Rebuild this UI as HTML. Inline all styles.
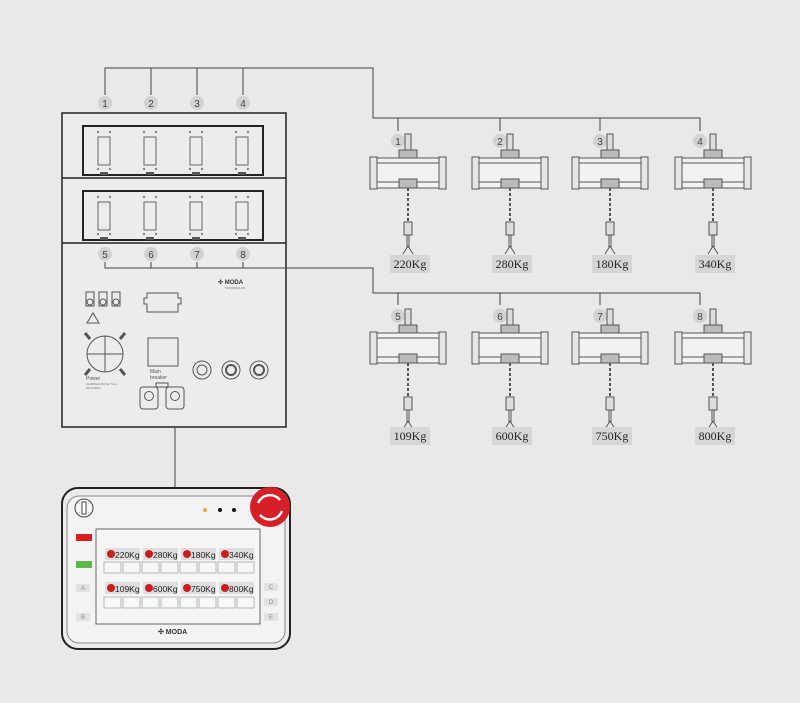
<!DOCTYPE html>
<html><head><meta charset="utf-8"><style>
html,body{margin:0;padding:0;background:#e9e9e9;}
svg{display:block;font-family:"Liberation Sans",sans-serif;}
</style></head><body>
<svg width="800" height="703" viewBox="0 0 800 703" xmlns="http://www.w3.org/2000/svg">
<defs>
<g id="hoist" stroke="#555" fill="none" stroke-width="1">
  <rect x="-3" y="-24" width="6" height="16" fill="#ddd"/>
  <rect x="-9" y="-8" width="18" height="8" fill="#bbb"/>
  <rect x="-38" y="0" width="76" height="30" fill="#f2f2f2"/>
  <line x1="-38" y1="5" x2="38" y2="5"/>
  <line x1="-38" y1="24" x2="38" y2="24"/>
  <rect x="-38" y="-1" width="7" height="32" fill="#e6e6e6"/>
  <rect x="31" y="-1" width="7" height="32" fill="#e6e6e6"/>
  <rect x="-9" y="21" width="18" height="9" fill="#bbb"/>
  <line x1="0" y1="30" x2="0" y2="64" stroke-dasharray="3,2" stroke-width="2"/>
  <rect x="-4" y="64" width="8" height="13" fill="#ddd"/>
  <line x1="-1" y1="77" x2="-1" y2="90"/><line x1="1" y1="77" x2="1" y2="90"/>
  <path d="M0 88 L-5 96 M0 88 L5 96"/>
</g>
<g id="panel" stroke="#222" fill="none">
  <rect x="0" y="0" width="180" height="49" stroke-width="2"/>
  <g id="slot">
    <rect x="15" y="11" width="12" height="28" stroke="#666"/>
    <circle cx="15" cy="6" r="1.2" fill="#888" stroke="none"/><circle cx="27" cy="6" r="1.2" fill="#888" stroke="none"/>
    <circle cx="15" cy="43" r="1.2" fill="#888" stroke="none"/><circle cx="27" cy="43" r="1.2" fill="#888" stroke="none"/>
    <rect x="17" y="46" width="8" height="3" fill="#555" stroke="none"/>
  </g>
  <use href="#slot" x="46"/><use href="#slot" x="92"/><use href="#slot" x="138"/>
</g>
</defs>

<!-- controller box -->
<rect x="62" y="113" width="224" height="314" fill="#ececec" stroke="#222" stroke-width="1.5"/>
<line x1="62" y1="178" x2="286" y2="178" stroke="#222" stroke-width="1.5"/>
<line x1="62" y1="243" x2="286" y2="243" stroke="#222" stroke-width="1.5"/>
<use href="#panel" x="83" y="126"/>
<use href="#panel" x="83" y="191"/>

<!-- wiring -->
<g stroke="#444" stroke-width="1" fill="none">
<path d="M105 95 V68 H373 V118 H700 V131"/>
<path d="M151 68 V95 M197 68 V95 M243 68 V95"/>
<path d="M398 118 V131 M500 118 V131 M600 118 V131"/>
<path d="M105 262 V268 H373 V293 H700 V305"/>
<path d="M151 262 V268 M197 262 V268 M243 262 V268"/>
<path d="M398 293 V305 M500 293 V305 M600 293 V305"/>
<line x1="175" y1="427" x2="175" y2="490"/>
</g>

<g font-size="10" text-anchor="middle" fill="#444">
<g fill="#d2d2d2"><circle cx="105" cy="103" r="7"/><circle cx="151" cy="103" r="7"/><circle cx="197" cy="103" r="7"/><circle cx="243" cy="103" r="7"/>
<circle cx="105" cy="254" r="7"/><circle cx="151" cy="254" r="7"/><circle cx="197" cy="254" r="7"/><circle cx="243" cy="254" r="7"/>
<circle cx="398" cy="141" r="7"/><circle cx="500" cy="141" r="7"/><circle cx="600" cy="141" r="7"/><circle cx="700" cy="141" r="7"/>
<circle cx="398" cy="316" r="7"/><circle cx="500" cy="316" r="7"/><circle cx="600" cy="316" r="7"/><circle cx="700" cy="316" r="7"/></g>
<text x="105" y="107">1</text><text x="151" y="107">2</text><text x="197" y="107">3</text><text x="243" y="107">4</text>
<text x="105" y="258">5</text><text x="151" y="258">6</text><text x="197" y="258">7</text><text x="243" y="258">8</text>
<text x="398" y="145">1</text><text x="500" y="145">2</text><text x="600" y="145">3</text><text x="700" y="145">4</text>
<text x="398" y="320">5</text><text x="500" y="320">6</text><text x="600" y="320">7</text><text x="700" y="320">8</text>
</g>

<g stroke="#555" fill="none">
<rect x="86" y="292" width="8" height="14"/><rect x="99" y="292" width="8" height="14"/><rect x="112" y="292" width="8" height="14"/>
<circle cx="90" cy="302" r="3"/><circle cx="103" cy="302" r="3"/><circle cx="116" cy="302" r="3"/>
<path d="M93 313 L87 323 L99 323 Z"/>
<circle cx="105" cy="354" r="18"/><line x1="87" y1="354" x2="123" y2="354"/><line x1="105" y1="336" x2="105" y2="372"/>
<path d="M90 339 L85 333 M120 339 L125 333 M90 369 L85 375 M120 369 L125 375" stroke-width="3"/>
<path d="M147 293 H178 V298 H181 V304 H178 V312 H147 V304 H144 V298 H147 Z"/>
<rect x="148" y="338" width="30" height="28"/>
<circle cx="202" cy="370" r="9"/><circle cx="202" cy="370" r="5"/>
<circle cx="231" cy="370" r="9"/><circle cx="231" cy="370" r="5" stroke-width="2"/>
<circle cx="259" cy="370" r="9"/><circle cx="259" cy="370" r="5" stroke-width="2"/>
<rect x="140" y="387" width="18" height="22" rx="3"/><circle cx="149" cy="396" r="4.5"/>
<rect x="166" y="387" width="18" height="22" rx="3"/><circle cx="175" cy="396" r="4.5"/>
<rect x="156" y="383" width="12" height="4"/>
</g>
<text x="218" y="284" font-size="6" font-weight="bold" fill="#333">✣ MODA</text>
<text x="225" y="289" font-size="3" fill="#777">MDDR0101-08</text>
<text x="150" y="373" font-size="5" fill="#555">Main</text>
<text x="150" y="379" font-size="5" fill="#555">breaker</text>
<text x="86" y="380" font-size="5" fill="#555">Power</text>
<text x="86" y="385" font-size="3" fill="#777">3x400Vac/230Vac N+E</text>
<text x="86" y="389" font-size="3" fill="#777">50Hz/60Hz</text>

<!-- hoists -->
<use href="#hoist" x="408" y="158"/><use href="#hoist" x="510" y="158"/><use href="#hoist" x="610" y="158"/><use href="#hoist" x="713" y="158"/>
<use href="#hoist" x="408" y="333"/><use href="#hoist" x="510" y="333"/><use href="#hoist" x="610" y="333"/><use href="#hoist" x="713" y="333"/>
<g fill="#d6d6d6">
<rect x="390" y="255" width="40" height="18"/><rect x="492" y="255" width="40" height="18"/><rect x="592" y="255" width="40" height="18"/><rect x="695" y="255" width="40" height="18"/>
<rect x="390" y="427" width="40" height="18"/><rect x="492" y="427" width="40" height="18"/><rect x="592" y="427" width="40" height="18"/><rect x="695" y="427" width="40" height="18"/>
</g>
<g font-family="Liberation Serif,serif" font-size="12" text-anchor="middle" fill="#222">
<text x="410" y="268">220Kg</text><text x="512" y="268">280Kg</text><text x="612" y="268">180Kg</text><text x="715" y="268">340Kg</text>
<text x="410" y="440">109Kg</text><text x="512" y="440">600Kg</text><text x="612" y="440">750Kg</text><text x="715" y="440">800Kg</text>
</g>

<!-- pendant -->
<rect x="62" y="488" width="228" height="161" rx="16" fill="#ebebeb" stroke="#222" stroke-width="2"/>
<rect x="67" y="496" width="218" height="147" rx="12" fill="#f3f3f3" stroke="#888"/>
<circle cx="84" cy="508" r="9" fill="#f5f5f5" stroke="#444"/><rect x="82" y="502" width="4" height="12" fill="#fff" stroke="#444"/>
<circle cx="205" cy="510" r="2" fill="#f0a030"/><circle cx="220" cy="510" r="2" fill="#111"/><circle cx="234" cy="510" r="2" fill="#111"/>
<circle cx="270" cy="507" r="20" fill="#d61f26"/>
<path d="M258 503 A13 13 0 0 1 280 500" stroke="#fff" stroke-width="2.5" fill="none"/>
<path d="M282 511 A13 13 0 0 1 260 515" stroke="#fff" stroke-width="2.5" fill="none"/>
<rect x="76" y="534" width="16" height="7" fill="#d62020"/>
<rect x="76" y="561" width="16" height="7" fill="#5cb84c"/>
<g fill="#e2e2e2"><rect x="76" y="584" width="14" height="8"/><rect x="76" y="613" width="14" height="8"/>
<rect x="264" y="583" width="14" height="8"/><rect x="264" y="598" width="14" height="8"/><rect x="264" y="613" width="14" height="8"/></g>
<g font-size="6" fill="#888" text-anchor="middle"><text x="83" y="590">A</text><text x="83" y="619">B</text><text x="271" y="589">C</text><text x="271" y="604">D</text><text x="271" y="619">E</text></g>
<rect x="96" y="529" width="164" height="95" fill="#f5f5f5" stroke="#666"/>
<g font-size="8.5" fill="#222">
<g fill="#dedede"><rect x="105" y="548" width="35" height="12"/><rect x="143" y="548" width="35" height="12"/><rect x="181" y="548" width="35" height="12"/><rect x="219" y="548" width="35" height="12"/>
<rect x="105" y="582" width="35" height="12"/><rect x="143" y="582" width="35" height="12"/><rect x="181" y="582" width="35" height="12"/><rect x="219" y="582" width="35" height="12"/></g>
<g fill="#c81e1e"><circle cx="111" cy="554" r="4"/><circle cx="149" cy="554" r="4"/><circle cx="187" cy="554" r="4"/><circle cx="225" cy="554" r="4"/>
<circle cx="111" cy="588" r="4"/><circle cx="149" cy="588" r="4"/><circle cx="187" cy="588" r="4"/><circle cx="225" cy="588" r="4"/></g>
<text x="115" y="558">220Kg</text><text x="153" y="558">280Kg</text><text x="191" y="558">180Kg</text><text x="229" y="558">340Kg</text>
<text x="115" y="592">109Kg</text><text x="153" y="592">600Kg</text><text x="191" y="592">750Kg</text><text x="229" y="592">800Kg</text>
</g>
<g fill="#f7f7f7" stroke="#aaa" stroke-width="0.8">
<rect x="104" y="562" width="17" height="11"/><rect x="123" y="562" width="17" height="11"/><rect x="142" y="562" width="17" height="11"/><rect x="161" y="562" width="17" height="11"/>
<rect x="180" y="562" width="17" height="11"/><rect x="199" y="562" width="17" height="11"/><rect x="218" y="562" width="17" height="11"/><rect x="237" y="562" width="17" height="11"/>
<rect x="104" y="597" width="17" height="11"/><rect x="123" y="597" width="17" height="11"/><rect x="142" y="597" width="17" height="11"/><rect x="161" y="597" width="17" height="11"/>
<rect x="180" y="597" width="17" height="11"/><rect x="199" y="597" width="17" height="11"/><rect x="218" y="597" width="17" height="11"/><rect x="237" y="597" width="17" height="11"/>
</g>
<text x="158" y="634" font-size="7" font-weight="bold" fill="#333">✣ MODA</text>
</svg>
</body></html>
